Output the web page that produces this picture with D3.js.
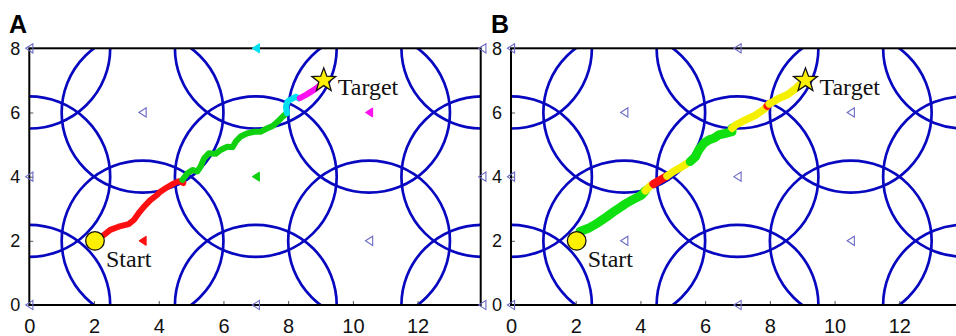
<!DOCTYPE html>
<html>
<head>
<meta charset="utf-8">
<script src="https://cdn.jsdelivr.net/npm/d3@7"></script>
<style>
  html, body { margin: 0; padding: 0; background: #fff; }
  svg { display: block; }
</style>
</head>
<body>
<svg id="chart" width="956" height="336"></svg>
<script>
// ---- data ----------------------------------------------------------------
const xTicks = [0, 2, 4, 6, 8, 10, 12];
const yTicks = [0, 2, 4, 6, 8];

// base stations (coverage circle centres), radius in field units
const stationX = [0, 0, 0, 3.5, 3.5, 7, 7, 7, 10.5, 10.5, 14, 14, 14];
const stationY = [0, 4, 8, 2, 6, 0, 4, 8, 2, 6, 0, 4, 8];
const coverageRadius = 2.5;

const startPoint = [2.03, 2.0];
const targetPoint = [9.1, 7.0];

// panel A: serving station colour per station index (null = idle)
const servingA = [null, null, null, "#ff1010", null, null, "#10d010", "#00e0f0", null, "#ff10f0", null, null, null];

// panel A trajectory, split by serving station
const trackA_red = [[2.3, 2.18], [2.5, 2.34], [2.76, 2.44], [3.07, 2.52], [3.23, 2.65], [3.38, 2.86], [3.54, 3.06], [3.74, 3.27], [3.95, 3.43], [4.05, 3.53], [4.26, 3.67], [4.47, 3.79], [4.62, 3.86], [4.76, 3.8]];
const trackA_green = [[4.73, 3.9], [4.88, 4.1], [5.04, 4.21], [5.19, 4.16], [5.29, 4.31], [5.4, 4.57], [5.55, 4.73], [5.76, 4.71], [5.91, 4.83], [6.12, 4.93], [6.28, 4.92], [6.38, 5.09], [6.53, 5.25], [6.74, 5.35], [6.95, 5.4], [7.16, 5.4], [7.36, 5.51], [7.52, 5.58], [7.67, 5.71], [7.83, 5.87], [7.96, 5.98]];
const trackA_cyan = [[7.96, 5.98], [7.93, 6.18], [7.98, 6.34], [8.09, 6.41], [8.24, 6.49], [8.33, 6.44]];
const trackA_magenta = [[8.36, 6.45], [8.55, 6.55], [8.71, 6.65], [8.87, 6.75], [9.02, 6.89]];

// panel B trajectory, split by link quality
const trackB_green1 = [[2.13, 2.29], [2.39, 2.39], [2.7, 2.57], [2.96, 2.75], [3.22, 2.94], [3.53, 3.15], [3.78, 3.29], [4.04, 3.43], [4.15, 3.56]];
const trackB_yellow1 = [[4.15, 3.56], [4.3, 3.71], [4.4, 3.77]];
const trackB_red1 = [[4.4, 3.77], [4.61, 3.9], [4.82, 4.02]];
const trackB_yellow2 = [[4.82, 4.02], [5.02, 4.16], [5.28, 4.31], [5.54, 4.47]];
const trackB_green2 = [[5.54, 4.47], [5.7, 4.62], [5.8, 4.83], [5.96, 5.04], [6.11, 5.14], [6.27, 5.2], [6.42, 5.3], [6.63, 5.35], [6.83, 5.4], [6.83, 5.51]];
const trackB_yellow3 = [[6.83, 5.51], [6.94, 5.61], [7.25, 5.77], [7.56, 5.92], [7.82, 6.1], [7.92, 6.2]];
const trackB_red2 = [[7.92, 6.2], [7.98, 6.27]];
const trackB_yellow4 = [[7.98, 6.27], [8.02, 6.29], [8.28, 6.44], [8.54, 6.55], [8.8, 6.75], [9.0, 6.93]];

// ---- drawing ---------------------------------------------------------------
const svg = d3.select("#chart");
const xMax = 13.95;
const plotTop = 48.3, plotBottom = 305, plotWidth = 451.4;

const panels = [
  {
    id: "A", left: 29.3, letterX: 9,
    stationFill: servingA,
    tracks: [
      { pts: trackA_red, color: "#ff1010", w: 6 },
      { pts: trackA_green, color: "#10d010", w: 6 },
      { pts: trackA_cyan, color: "#00e0f0", w: 6 },
      { pts: trackA_magenta, color: "#ff10f0", w: 6 }
    ]
  },
  {
    id: "B", left: 511, letterX: 491,
    stationFill: stationX.map(() => null),
    tracks: [
      { pts: trackB_green1, color: "#10e010", w: 9 },
      { pts: trackB_yellow1, color: "#f4f000", w: 7.5 },
      { pts: trackB_red1, color: "#ff1010", w: 8 },
      { pts: trackB_yellow2, color: "#f4f000", w: 7.5 },
      { pts: trackB_green2, color: "#10e010", w: 9 },
      { pts: trackB_yellow3, color: "#f4f000", w: 7.5 },
      { pts: trackB_red2, color: "#ff1010", w: 7.5 },
      { pts: trackB_yellow4, color: "#f4f000", w: 7.5 }
    ]
  }
];

function starPath(outer, inner) {
  const pts = [];
  for (let i = 0; i < 10; i++) {
    const r = i % 2 === 0 ? outer : inner;
    const a = -Math.PI / 2 + i * Math.PI / 5;
    pts.push([r * Math.cos(a), r * Math.sin(a)]);
  }
  return "M" + pts.map(p => p[0].toFixed(2) + "," + p[1].toFixed(2)).join("L") + "Z";
}
const triPath = "M-3.6,0L3.6,-4.6L3.6,4.6Z";

panels.forEach(p => {
  const x = d3.scaleLinear().domain([0, xMax]).range([p.left, p.left + plotWidth]);
  const y = d3.scaleLinear().domain([0, 8]).range([plotBottom, plotTop]);
  const g = svg.append("g");

  const clipId = "clip" + p.id;
  svg.append("clipPath").attr("id", clipId)
    .append("rect")
    .attr("x", x(0)).attr("y", y(8))
    .attr("width", x(xMax) - x(0)).attr("height", y(0) - y(8));

  const inner = g.append("g").attr("clip-path", `url(#${clipId})`);

  // coverage circles
  const rx = x(coverageRadius) - x(0);
  const ry = y(0) - y(coverageRadius);
  inner.selectAll("ellipse.cov")
    .data(d3.range(stationX.length))
    .join("ellipse")
    .attr("class", "cov")
    .attr("cx", i => x(stationX[i]))
    .attr("cy", i => y(stationY[i]))
    .attr("rx", rx).attr("ry", ry)
    .attr("fill", "none")
    .attr("stroke", "#0808c0")
    .attr("stroke-width", 2.7);

  // trajectory
  const line = d3.line().x(d => x(d[0])).y(d => y(d[1])).curve(d3.curveLinear);
  inner.selectAll("path.track")
    .data(p.tracks)
    .join("path")
    .attr("class", "track")
    .attr("d", d => line(d.pts))
    .attr("fill", "none")
    .attr("stroke", d => d.color)
    .attr("stroke-width", d => d.w)
    .attr("stroke-linejoin", "round")
    .attr("stroke-linecap", "round");

  // axes with inward ticks
  const xAxis = d3.axisBottom(x).tickValues(xTicks).tickFormat(d3.format("d"))
    .tickSizeInner(-4).tickSizeOuter(0).tickPadding(14);
  const gx = g.append("g").attr("transform", `translate(0,${plotBottom})`).call(xAxis);
  gx.select(".domain").remove();
  gx.selectAll(".tick line").attr("stroke", "#555").attr("stroke-width", 1);
  gx.selectAll(".tick text")
    .attr("fill", "#111")
    .style("font-family", "'Liberation Sans', Arial, sans-serif")
    .style("font-size", "20px");

  const yAxis = d3.axisLeft(y).tickValues(yTicks).tickFormat(d3.format("d"))
    .tickSizeInner(-4).tickSizeOuter(0).tickPadding(9);
  const gy = g.append("g").attr("transform", `translate(${p.left},0)`).call(yAxis);
  gy.select(".domain").remove();
  gy.selectAll(".tick line").attr("stroke", "#555").attr("stroke-width", 1);
  gy.selectAll(".tick text")
    .attr("fill", "#111")
    .style("font-family", "'Liberation Sans', Arial, sans-serif")
    .style("font-size", "18px");

  // plot box
  g.append("rect")
    .attr("x", x(0)).attr("y", y(8))
    .attr("width", x(xMax) - x(0)).attr("height", y(0) - y(8))
    .attr("fill", "none").attr("stroke", "#000").attr("stroke-width", 2);

  // station markers
  g.selectAll("path.station")
    .data(d3.range(stationX.length))
    .join("path")
    .attr("class", "station")
    .attr("transform", i => `translate(${x(stationX[i])},${y(stationY[i])})`)
    .attr("d", triPath)
    .attr("fill", i => p.stationFill[i] || "none")
    .attr("stroke", i => p.stationFill[i] || "#6a6ac4")
    .attr("stroke-width", i => p.stationFill[i] ? 1 : 1.1);

  // start / target
  g.append("circle")
    .attr("cx", x(startPoint[0])).attr("cy", y(startPoint[1])).attr("r", 9.3)
    .attr("fill", "#fcf000").attr("stroke", "#111").attr("stroke-width", 1.3);
  g.append("path")
    .attr("transform", `translate(${x(targetPoint[0])},${y(targetPoint[1])})`)
    .attr("d", starPath(12.5, 5.2))
    .attr("fill", "#fcf000").attr("stroke", "#111").attr("stroke-width", 1.3);

  g.append("text")
    .attr("x", x(startPoint[0]) + 11).attr("y", y(startPoint[1]) + 26)
    .style("font-family", "'Liberation Serif', 'Times New Roman', serif")
    .style("font-size", "24px").attr("fill", "#111")
    .text("Start");
  g.append("text")
    .attr("x", x(targetPoint[0]) + 14).attr("y", y(targetPoint[1]) + 15)
    .style("font-family", "'Liberation Serif', 'Times New Roman', serif")
    .style("font-size", "24px").attr("fill", "#111")
    .text("Target");

  // panel letter
  svg.append("text")
    .attr("x", p.letterX).attr("y", 33)
    .style("font-family", "'Liberation Sans', Arial, sans-serif")
    .style("font-size", "25px").style("font-weight", "bold")
    .attr("fill", "#000")
    .text(p.id);
});
</script>
</body>
</html>
